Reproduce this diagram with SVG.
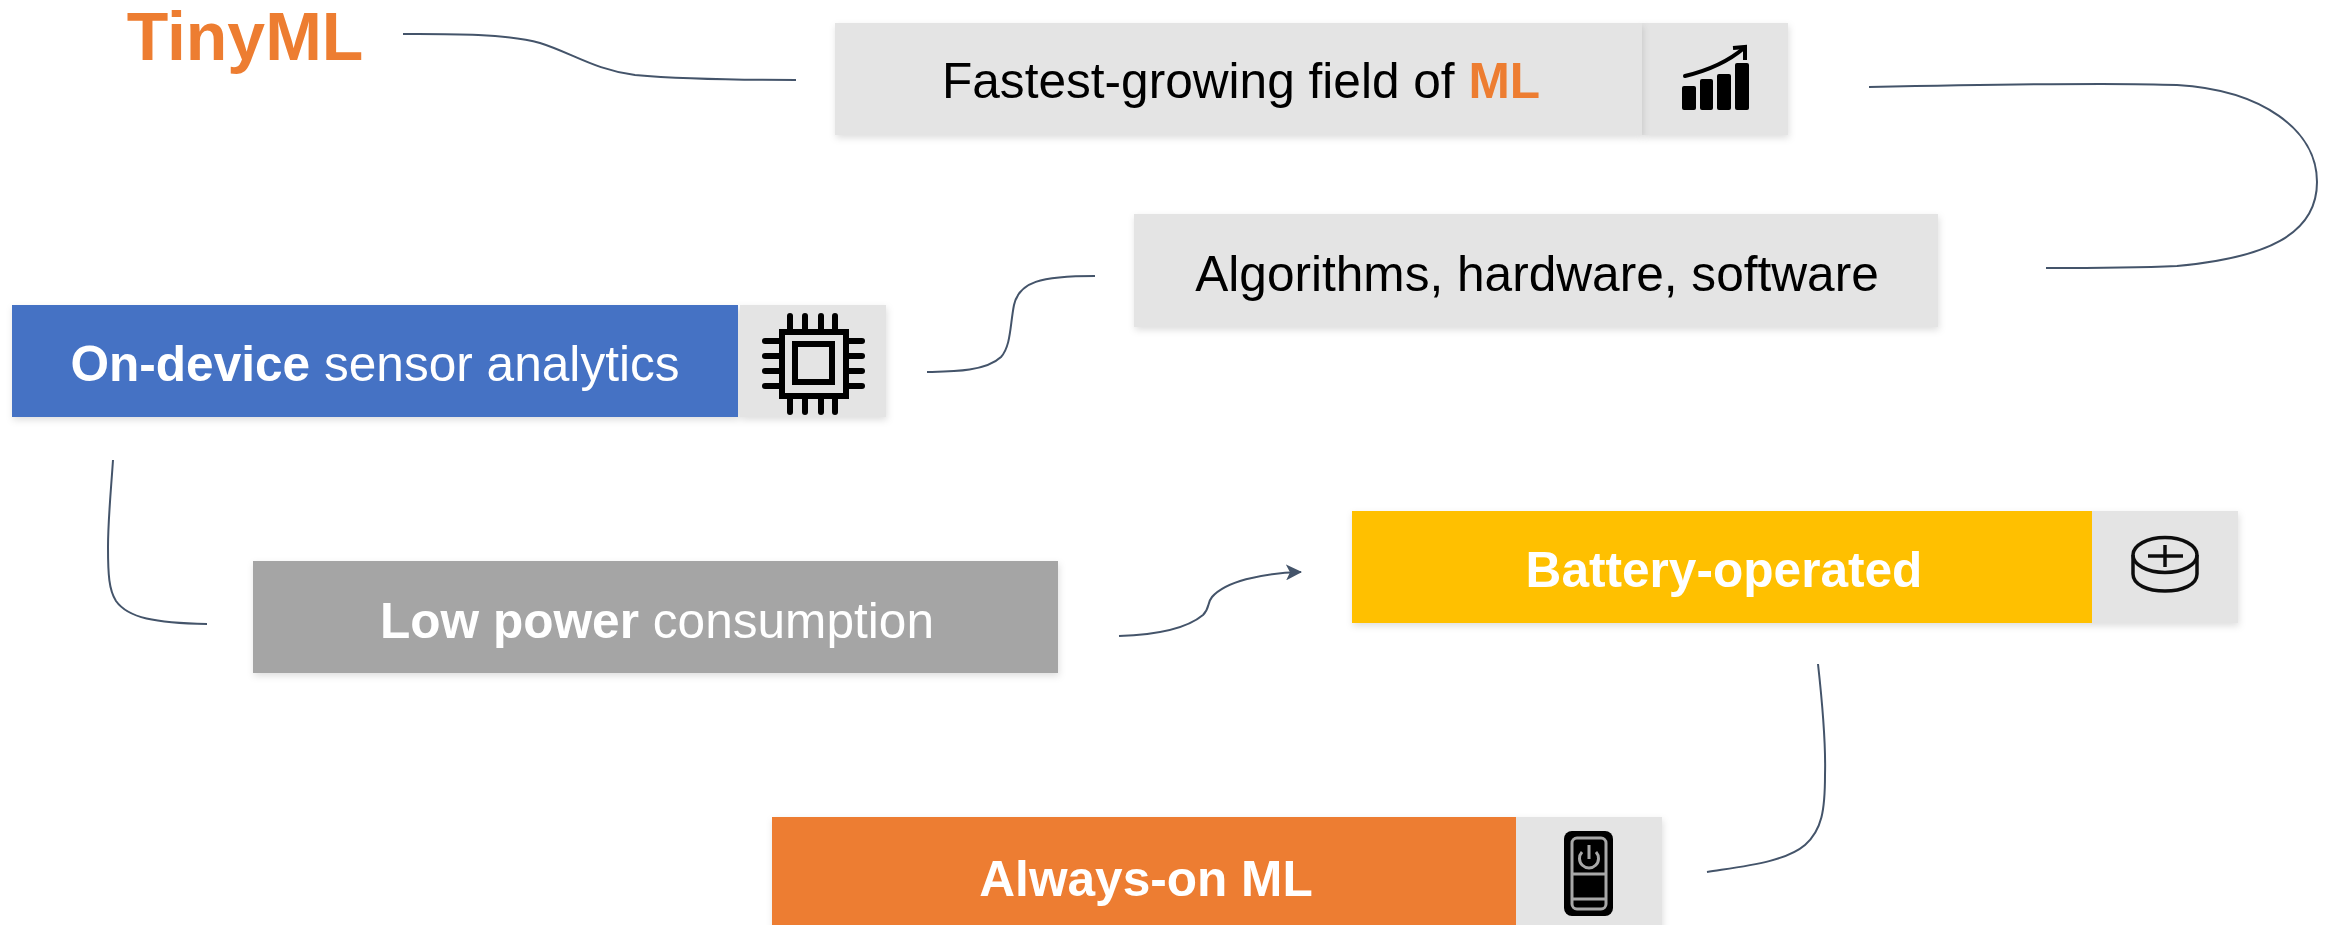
<svg xmlns="http://www.w3.org/2000/svg" width="2333" height="925" viewBox="0 0 2333 925">
<style>
text{font-family:"Liberation Sans",Arial,sans-serif;font-size:49.6px;text-anchor:middle}
.b{font-weight:700}
.w{fill:#fff}
.k{fill:#000}
.o{fill:#ed7d31}
.g{fill:#e4e4e4}
.c{fill:none;stroke:#44546a;stroke-width:2}
</style>
<defs>
<filter id="s" x="-5%" y="-15%" width="110%" height="130%"><feDropShadow dx="1" dy="3" stdDeviation="3.5" flood-color="#000" flood-opacity=".13"/></filter>
<marker id="a" viewBox="0 0 16 16" refX="15" refY="8" markerWidth="16" markerHeight="16" markerUnits="userSpaceOnUse" orient="auto"><path d="M0 0L16 8L0 16L4 8Z" fill="#44546a"/></marker>
</defs>
<g id="connectors">
<path class="c" d="M403 34C440 34 505 33 540 43C572 53 595 70 635 75C680 79 740 80 796 80"/>
<path class="c" d="M1869 87C2060 83 2130 83 2177 85C2262 90 2317 130 2317 182C2317 235 2265 258 2177 266C2130 268 2090 268 2046 268"/>
<path class="c" d="M927 372C950 371.500 985 372 1001 357C1011 346 1010 325 1014 305C1019 282 1040 276 1095 276"/>
<path class="c" d="M113 460C111 490 108 520 108 547C108 575 109 590 116 601C128 618 155 623 207 624"/>
<path class="c" marker-end="url(#a)" d="M1119 636C1150 635 1185 630 1203 615C1210 608 1207 603 1212 597C1225 582 1260 573 1301 572"/>
<path class="c" d="M1818 664C1822 700 1826 740 1825 775C1825 810 1822 830 1805 845C1785 862 1745 866 1707 872"/>
</g>
<g id="title"><text class="b o" x="245" y="60" style="font-size:68px">TinyML</text></g>
<g id="node-fastest">
<rect x="1642" y="23" width="146" height="112" class="g" filter="url(#s)"/>
<rect x="835" y="23" width="807" height="112" class="g" filter="url(#s)"/>
<text x="1241" y="98" class="k">Fastest-growing field of <tspan class="b o">ML</tspan></text>
<path d="M1685 76C1710 70 1730 60 1744 48" fill="none" stroke="#000" stroke-width="4" stroke-linecap="round"/>
<path d="M1733 48L1745 47L1745 60" fill="none" stroke="#000" stroke-width="4"/>
<rect x="1682" y="86" width="14" height="24" rx="2"/><rect x="1700" y="79" width="13" height="31" rx="2"/><rect x="1717" y="74" width="14" height="36" rx="2"/><rect x="1735" y="63" width="14" height="47" rx="2"/>
</g>
<g id="node-algorithms" filter="url(#s)">
<rect x="1134" y="214" width="804" height="113" class="g"/>
<text x="1537" y="291" class="k">Algorithms, hardware, software</text>
</g>
<g id="node-ondevice" filter="url(#s)">
<rect x="12" y="305" width="726" height="112" fill="#4472c4"/>
<rect x="740" y="305" width="146" height="112" class="g"/>
<text x="375" y="381" class="w"><tspan class="b">On-device</tspan> sensor analytics</text>
<g fill="none" stroke="#000" stroke-width="6">
<rect x="782" y="332" width="64" height="64"/>
<rect x="795" y="344" width="37" height="38"/>
<path stroke-linecap="round" d="M790 316V332M805 316V332M821 316V332M835 316V332M790 396V412M805 396V412M821 396V412M835 396V412M765 341H782M765 356H782M765 371H782M765 386H782M846 341H862M846 356H862M846 371H862M846 386H862"/>
</g>
</g>
<g id="node-lowpower" filter="url(#s)">
<rect x="253" y="561" width="805" height="112" fill="#a5a5a5"/>
<text x="657" y="638" class="w"><tspan class="b">Low power</tspan> consumption</text>
</g>
<g id="node-battery" filter="url(#s)">
<rect x="1352" y="511" width="740" height="112" fill="#ffc000"/>
<rect x="2092" y="511" width="146" height="112" class="g"/>
<text x="1724" y="587" class="b w">Battery-operated</text>
<g fill="none" stroke="#111" stroke-width="3.500">
<ellipse cx="2165" cy="555" rx="32" ry="17.500"/>
<path d="M2133 555V574C2133 585 2148 591 2165 591C2182 591 2197 585 2197 574V555"/>
<path d="M2148 556H2183M2165 545V567"/>
</g>
</g>
<g id="node-always" filter="url(#s)">
<rect x="772" y="817" width="744" height="120" fill="#ed7d31"/>
<rect x="1516" y="817" width="146" height="120" class="g"/>
<text x="1146" y="896" class="b w">Always-on ML</text>
<rect x="1564" y="831" width="49" height="85" rx="8" fill="#000"/>
<g fill="none" stroke="#a8a8a8" stroke-width="3">
<rect x="1572" y="838" width="34" height="71" rx="5"/>
<path d="M1572 874H1606M1572 899H1606"/>
<path d="M1582 852A9.500 9.500 0 1 0 1596 852M1589 845V859"/>
</g>
</g>
</svg>
